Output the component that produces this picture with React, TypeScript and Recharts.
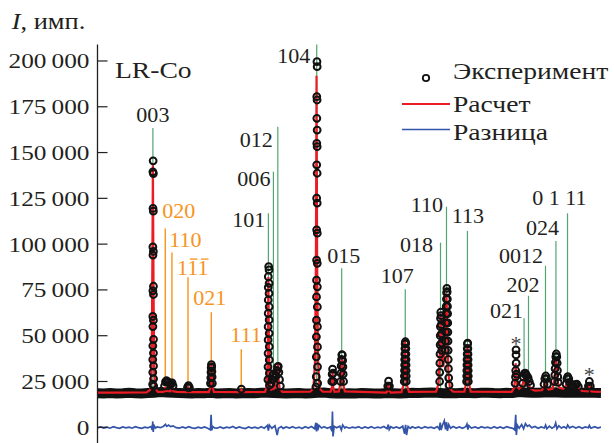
import React from 'react';
import { ComposedChart, Line, Scatter, XAxis, YAxis, ReferenceLine, ReferenceDot, Legend } from 'recharts';

const W = 614;
const H = 450;
const FONT = '"Liberation Serif","Times New Roman",serif';
const INK = '#231f20';
const RED = '#ec1c24';
const BLUE = '#3354a8';
const GREEN = '#52a571';
const ORANGE = '#f7941d';

// ---- data (2θ in degrees, intensity in thousands of counts) ----
const yTicks = [0, 25000, 50000, 75000, 100000, 125000, 150000, 175000, 200000];
const xTicks = [20, 40, 60, 80];

const baseAngles = [10, 11, 12, 13, 14, 15, 16, 17, 18, 19, 20, 21, 22, 23, 24, 25, 26, 27, 28, 29, 30, 31, 32, 33, 34, 35, 36, 37, 38, 39, 40, 41, 42, 43, 44, 45, 46, 47, 48, 49, 50, 51, 52, 53, 54, 55, 56, 57, 58, 59, 60, 61, 62, 63, 64, 65, 66, 67, 68, 69, 70, 71, 72, 73, 74, 75, 76, 77, 78, 79, 80, 81, 82, 83, 84, 85, 86, 87, 88, 89, 90];
const baseValues = [18.6, 18.5, 18.7, 18.5, 18.6, 18.8, 18.6, 18.5, 18.7, 18.9, 19.2, 19.0, 18.8, 18.7, 18.6, 18.5, 18.7, 18.6, 18.8, 18.5, 18.6, 18.7, 18.5, 18.6, 18.7, 18.6, 18.8, 18.9, 18.7, 18.6, 18.5, 18.6, 18.7, 18.5, 18.6, 18.8, 19.0, 18.6, 18.5, 18.4, 18.6, 18.5, 18.7, 18.6, 18.4, 18.5, 18.7, 18.6, 18.5, 18.6, 18.8, 18.7, 18.9, 19.0, 18.8, 18.6, 18.7, 18.6, 18.8, 18.7, 18.6, 18.8, 18.9, 18.7, 18.6, 18.8, 18.7, 19.2, 19.0, 18.9, 18.8, 19.0, 19.1, 19.0, 18.9, 19.0, 18.8, 18.9, 19.0, 18.8, 18.7];

const expPeaks = [
  [20.65, 22.5], [20.8, 24.8], [20.95, 25.4], [21.1, 25], [21.25, 24.6], [21.45, 24], [21.65, 23.5], [21.85, 24.2], [22.0, 22.6],
  [24.3, 21.8], [24.45, 22.8], [24.6, 21.6],
  [27.95, 24], [28.0, 27], [28.03, 30], [28.06, 32.5], [28.1, 34.2], [28.15, 33], [28.18, 30.5], [28.21, 27.5], [28.25, 24],
  [32.86, 20.8],
  [18.84, 145.5], [18.8, 139.5], [18.88, 138.5], [18.82, 119.5], [18.87, 118], [18.8, 98.5], [18.88, 96], [18.81, 94], [18.89, 77], [18.8, 74.5], [18.89, 72.5], [18.79, 60.5], [18.88, 58.5], [18.8, 55], [18.9, 48], [18.79, 44.5], [18.89, 40.5], [18.78, 37], [18.9, 33.5], [18.78, 30], [18.91, 26.5], [18.76, 23.5], [18.93, 22.5],
  [37.2, 87.7], [37.26, 85.9], [37.14, 82.2], [37.27, 78.6], [37.13, 76.4], [37.26, 73.1], [37.13, 69.5], [37.28, 65.8], [37.12, 62.2], [37.27, 58.6], [37.11, 54.9], [37.28, 51.3], [37.11, 47.7], [37.29, 44], [37.1, 40.4], [37.29, 36.8], [37.09, 33], [37.3, 29.5], [37.08, 26], [37.32, 23],
  [37.6, 24], [37.75, 26], [37.9, 28.5], [38.0, 29], [38.15, 27], [38.35, 28], [38.5, 31], [38.6, 33], [38.72, 33.2], [38.82, 30], [38.92, 26], [39.05, 22.5],
  [44.87, 199.6], [44.9, 196.9], [44.84, 180.5], [44.89, 178.7], [44.85, 168.7], [44.9, 162.3], [44.84, 155], [44.9, 153.2], [44.83, 143.3], [44.9, 138.7], [44.82, 125.1], [44.91, 122.4], [44.82, 107.8], [44.92, 106], [44.81, 91.3], [44.92, 89.5], [44.8, 80.3], [44.93, 76.7], [44.8, 71.2], [44.93, 65.7], [44.79, 58.5], [44.94, 54.9], [44.78, 49.4], [44.95, 43.9], [44.77, 38.5], [44.96, 33], [44.76, 27.6], [44.98, 24], [44.7, 22],
  [47.22, 25], [47.28, 29], [47.35, 31.8], [47.42, 29.5], [47.48, 25],
  [48.62, 25], [48.68, 29.5], [48.72, 33.5], [48.76, 37], [48.82, 39.6], [48.9, 39.4], [48.95, 36.5], [48.99, 33], [49.03, 29], [49.1, 25],
  [56.12, 22.5], [56.25, 25.2], [56.38, 22.5],
  [58.74, 25], [59.06, 25], [58.76, 28], [59.05, 28], [58.78, 31], [59.04, 31], [58.8, 34], [59.03, 34], [58.81, 37], [59.02, 37], [58.83, 40], [59.0, 40], [58.85, 43], [58.99, 43], [58.88, 45.5], [58.96, 45.8], [58.92, 46.7],
  [64.36, 25], [64.38, 30], [64.4, 35], [64.42, 40], [64.44, 45], [64.46, 50], [64.48, 55], [64.5, 59.5], [64.54, 62.8], [64.6, 61], [64.63, 56], [64.65, 51], [64.67, 46], [64.7, 42],
  [65.3, 42], [65.32, 47], [65.34, 52], [65.36, 57], [65.38, 62], [65.41, 66], [65.44, 70], [65.47, 73.5], [65.51, 75.8], [65.56, 74], [65.59, 70], [65.61, 66], [65.63, 62], [65.65, 57], [65.67, 52], [65.69, 47], [65.71, 42], [65.73, 37], [65.76, 32], [65.8, 27], [65.85, 23],
  [68.64, 25], [68.92, 25], [68.66, 28], [68.91, 28], [68.68, 31], [68.9, 31], [68.7, 34], [68.89, 34], [68.71, 37], [68.88, 37], [68.73, 40], [68.87, 40], [68.75, 43], [68.85, 43], [68.78, 45.5], [68.82, 46],
  [76.35, 24], [76.42, 27.5], [76.45, 31], [76.52, 35], [76.5, 39.5], [76.5, 42.3], [76.58, 29],
  [77.55, 24], [77.68, 27.5], [77.82, 29.3], [77.97, 29.6], [78.1, 28.6], [78.25, 28], [78.42, 27], [78.6, 25], [78.8, 23],
  [80.95, 23.5], [81.08, 26.5], [81.22, 28], [81.36, 26.5], [81.5, 23.5],
  [82.6, 25], [82.66, 28.5], [82.71, 32], [82.76, 35.5], [82.82, 38.5], [82.9, 40], [82.98, 38.5], [83.03, 35], [83.08, 31], [83.13, 27.5], [83.2, 24.5],
  [84.45, 23.5], [84.58, 26.5], [84.72, 27.6], [84.88, 26.5], [85.02, 24.5], [85.3, 23], [85.6, 22.8], [85.9, 23.3], [86.15, 23.6], [86.4, 22.2],
  [88.0, 22.5], [88.15, 25], [88.3, 22.5],
];

const calcPts = [
  [10, 18.9], [12, 18.9], [14, 18.9], [16, 19.0], [17.8, 19.1], [18.4, 20.5], [18.6, 32], [18.7, 80], [18.8, 143], [18.9, 80], [19.0, 32], [19.2, 21], [19.6, 19.3],
  [20.4, 19.3], [20.65, 19.6], [20.79, 22], [20.95, 19.8], [21.6, 19.6], [21.85, 23], [22.05, 19.6], [22.6, 19.3], [24.2, 19.2], [24.4, 21.5], [24.6, 19.2],
  [27.7, 19.2], [27.95, 22], [28.05, 30], [28.1, 34], [28.15, 30], [28.25, 22], [28.5, 19.3], [32.6, 19.2], [32.86, 20.5], [33.1, 19.2],
  [36.6, 19.3], [36.9, 22], [37.05, 40], [37.15, 82], [37.25, 40], [37.4, 22], [37.6, 20.5], [37.85, 21], [37.98, 25.5], [38.12, 21.5], [38.45, 23], [38.6, 32], [38.68, 35], [38.78, 26], [38.95, 21], [39.4, 19.3],
  [43.8, 19.4], [44.3, 21], [44.55, 35], [44.7, 90], [44.8, 192], [44.9, 90], [45.05, 35], [45.3, 21], [45.8, 19.5],
  [47.05, 19.4], [47.25, 22], [47.35, 30], [47.45, 22], [47.65, 19.4], [48.35, 19.6], [48.6, 24], [48.72, 33], [48.8, 38], [48.9, 33], [49.0, 24], [49.3, 19.6],
  [55.9, 18.9], [56.1, 20], [56.22, 24.5], [56.35, 20], [56.6, 18.9], [58.3, 19.2], [58.6, 23], [58.78, 34], [58.88, 47.5], [58.98, 34], [59.15, 23], [59.5, 19.3],
  [63.8, 19.5], [64.2, 24], [64.38, 40], [64.52, 62], [64.68, 40], [64.82, 34], [64.95, 33], [65.2, 45], [65.3, 58], [65.45, 73], [65.6, 50], [65.75, 30], [66.0, 21], [66.5, 19.5],
  [68.3, 19.4], [68.55, 24], [68.7, 38], [68.78, 45], [68.88, 38], [69.02, 24], [69.3, 19.5],
  [75.8, 19.3], [76.2, 21.5], [76.35, 27], [76.45, 35], [76.55, 27], [76.7, 22], [77.0, 21], [77.3, 22], [77.6, 24], [77.8, 27.5], [78.0, 23], [78.2, 23.5], [78.4, 25.5], [78.6, 22.5], [78.9, 20.8], [79.5, 20],
  [80.6, 20.2], [80.95, 22], [81.15, 25], [81.35, 22], [81.7, 20.6], [82.3, 21], [82.6, 26], [82.75, 33], [82.85, 36.5], [82.95, 33], [83.1, 25], [83.4, 21.5],
  [84.0, 21], [84.4, 22.5], [84.62, 25.8], [84.8, 23], [85.2, 21.8], [85.6, 21.5], [86.0, 22.2], [86.2, 22.8], [86.5, 21], [87.0, 19.8], [87.9, 19.6], [88.05, 21], [88.15, 24], [88.27, 21], [88.5, 19.6], [89, 19.4], [90, 19.3],
];

const diffPts = [
  [10, -0.3], [10.5, 0.2], [11, -0.4], [11.5, 0.1], [12, -0.5], [12.5, 0.3], [13, -0.2], [13.5, -0.6], [14, 0.2], [14.5, -0.3], [15, 0.1], [15.5, -0.5], [16, 0.3], [16.5, -0.2], [17, -0.6], [17.5, 0.1], [18, -0.3], [18.5, 0.4],
  [18.7, -1.5], [18.78, 3.2], [18.86, -2.6], [18.95, 1.2], [19.2, -0.4], [19.5, 0.2], [20, -0.2], [20.5, 0.6], [20.8, 1.6], [21, 0.5], [21.3, 1.2], [21.6, 0.4], [22, 0.8], [22.5, -0.2], [23, -0.5], [23.5, 0.2], [24, -0.4], [24.5, 0.3],
  [25, -0.3], [25.5, -0.6], [26, 0.1], [26.5, -0.4], [27, 0.2], [27.5, -0.5], [27.95, -1.4], [28.05, 6.8], [28.15, -1.6], [28.3, 0.5], [28.6, -0.3], [29, -0.5], [29.5, 0.2], [30, -0.6], [30.5, 0.1], [31, -0.3], [31.5, 0.4],
  [32, -0.5], [32.5, 0.2], [33, -0.3], [33.5, -0.7], [34, 0.2], [34.5, -0.4], [35, 0.1], [35.5, -0.6], [36, 0.3], [36.5, -0.5], [37, 1.0], [37.15, -1.8], [37.3, 1.2], [37.7, -0.5], [38.2, 0.8], [38.55, -4.2], [38.75, -0.5],
  [39.2, 0.4], [39.5, -0.6], [40, 0.2], [40.5, -0.4], [41, 0.3], [41.5, -0.5], [42, 0.1], [42.5, -0.7], [43, 0.3], [43.5, -0.4], [44, 0.4], [44.5, -0.8], [44.7, 2.5], [44.8, -2.2], [44.9, 2.2], [45.0, -1.6], [45.2, 1.0], [45.6, -0.4],
  [46, 0.3], [46.5, -0.5], [47, 0.2], [47.25, -2.2], [47.33, 8.6], [47.42, -5.0], [47.6, 0.5], [48, -0.3], [48.5, 0.6], [48.75, -1.5], [48.95, 1.3], [49.3, -0.4], [49.5, 0.2], [50, -0.5], [50.5, 0.1], [51, -0.3], [51.5, 0.3],
  [52, -0.6], [52.5, 0.2], [53, -0.4], [53.5, 0.3], [54, -0.5], [54.5, 0.1], [55, -0.3], [55.5, 0.4], [56, -0.8], [56.2, 1.5], [56.35, -1.2], [56.6, 0.3], [57, -0.4], [57.5, 0.2], [58, -0.5], [58.5, 0.6], [58.8, -3.5], [58.95, 1.4],
  [59.1, -4.2], [59.35, 0.5], [59.7, -0.6], [60, 0.3], [60.5, -0.4], [61, 0.2], [61.5, -0.6], [62, 0.3], [62.5, -0.3], [63, 0.1], [63.5, -0.5], [64, 0.4], [64.3, -1.0], [64.45, 2.5], [64.6, -1.5], [64.8, 1.0], [65.1, 3.6],
  [65.3, -1.2], [65.45, 2.8], [65.6, -2.0], [65.8, 1.5], [66.1, -0.5], [66.5, 0.4], [67, -0.4], [67.5, 0.2], [68, -0.5], [68.5, 0.3], [68.7, 1.8], [68.85, -1.2], [69.0, 0.9], [69.4, -0.4], [70, 0.2], [70.5, -0.5], [71, 0.3],
  [71.5, -0.3], [72, 0.1], [72.5, -0.6], [73, 0.3], [73.5, -0.4], [74, 0.2], [74.5, -0.5], [75, 0.3], [75.5, -0.2], [76, -0.6], [76.3, -1.5], [76.45, 6.8], [76.55, -4.2], [76.7, 1.2], [77, -0.5], [77.4, 1.5], [77.7, -0.8],
  [78.0, 2.0], [78.3, 0.5], [78.6, 1.2], [79, -0.3], [79.5, 0.4], [80, -0.5], [80.5, 0.2], [81, -0.4], [81.2, 1.2], [81.4, -0.8], [81.8, 0.6], [82.2, -0.5], [82.6, 0.3], [82.8, 2.4], [83.0, -0.8], [83.3, 0.8], [83.7, -0.4],
  [84.1, 0.3], [84.5, -0.5], [84.7, 1.2], [85, -0.3], [85.5, 0.5], [86, -0.4], [86.5, 0.3], [87, -0.5], [87.5, 0.2], [88, -0.3], [88.15, 1.0], [88.4, -0.5], [89, 0.3], [89.5, -0.4], [90, 0.1],
];

// LiMO2 (R-3m) reflections
const rhomboHkl = ['003', '101', '006', '012', '104', '015', '107', '018', '110', '113', '021', '202', '0012', '024', '0 1 11'];
const rhomboAngle = [18.8, 37.15, 37.95, 38.65, 44.83, 48.8, 58.9, 64.5, 65.45, 68.78, 77.78, 78.48, 81.18, 82.84, 84.68];
const rhomboTop = [163.4, 116.8, 139.6, 164.1, 209, 86.8, 75.3, 100.8, 120.4, 107.2, 59.5, 71.8, 88.2, 101.7, 116.8];

// Li2MnO3 (C2/m) reflections; '-' marks a negative index
const monoHkl = ['020', '110', '1-1-1', '021', '111'];
const monoAngle = [20.77, 21.83, 24.38, 28.08, 32.84];
const monoTop = [108.6, 95.5, 81.9, 62.8, 42.6];

// impurity peaks marked with *
const starAngle = [76.5, 88.15];
const starTop = [42.3, 25];

const legendNames = ['Эксперимент', 'Расчет', 'Разница'];
const axisTitle = 'I';
const axisUnit = ', имп.';
const sampleName = 'LR-Co';

// ---- label placement (pixels, relative to line top) ----
const rhomboLabelPos: Record<string, [number, number, string]> = {
  '003': [0, -6, 'middle'],
  '101': [-3, 14, 'end'],
  '006': [-3, 14.5, 'end'],
  '012': [-5, 20, 'end'],
  '104': [-6.5, 18, 'end'],
  '015': [2, -5, 'middle'],
  '107': [-8, -6.5, 'middle'],
  '018': [-7.5, 9, 'end'],
  '110': [-3.5, 5, 'end'],
  '113': [0.5, -8, 'middle'],
  '021': [-1, 0, 'end'],
  '202': [11, -4, 'end'],
  '0012': [-2.5, -3, 'end'],
  '024': [3, -6, 'end'],
  '0 1 11': [19, -8, 'end'],
};
const monoLabelPos: Record<string, [number, number]> = {
  '020': [-3, -10],
  '110': [-2.7, -5.6],
  '1-1-1': [-11, -2],
  '021': [-18, -7],
  '111': [-11, -7.6],
};

const toRows = (pts: number[][]) => pts.map(([x, k]) => ({ x, y: k * 1000 }));
const bandRows = baseAngles.map((a, i) => ({ x: a, y: baseValues[i] * 1000 }));
const expRows = toRows(expPeaks);
const calcRows = toRows(calcPts);
const diffRows = toRows(diffPts);

function SText({ x, y, anchor = 'start', fill = INK, size = 22, sx = 1.1, children }: any) {
  return (
    <text transform={`translate(${x},${y}) scale(${sx},1)`} textAnchor={anchor} fill={fill} fontSize={size} fontFamily={FONT}>
      {children}
    </text>
  );
}

const fmtY = (v: number) => (v === 0 ? '0' : `${Math.floor(v / 1000)}\u2009${String(v % 1000).padStart(3, '0')}`);

const YTick = (p: any) => {
  const { x, y, payload } = p;
  return (
    <g>
      <line x1={x + 8} x2={x + 18} y1={y} y2={y} stroke={INK} strokeWidth={1.2} />
      <SText x={x} y={y + 7.5} anchor="end" size={22} sx={1.15}>{fmtY(payload.value)}</SText>
    </g>
  );
};

// Miller-index label with bars over negative indices
const MonoLabel = ({ x, y, label }: any) => {
  const toks = label.match(/-?\d/g) || [];
  const size = 21;
  const adv = size * 0.5;
  return (
    <g transform={`translate(${x},${y}) scale(1.05,1)`}>
      <text fill={ORANGE} fontSize={size} fontFamily={FONT}>
        {toks.map((t: string) => t.replace('-', '')).join('')}
      </text>
      {toks.map((t: string, i: number) =>
        t.startsWith('-') ? (
          <line key={i} x1={i * adv + 1.8} x2={i * adv + 9} y1={-16.2} y2={-16.2} stroke={ORANGE} strokeWidth={1.3} />
        ) : null
      )}
    </g>
  );
};

const ExpDot = (p: any) => <circle cx={p.cx} cy={p.cy} r={3.4} fill="none" stroke="#111" strokeWidth={2} />;

const Overlay = () => (
  <svg width={W} height={H} style={{ position: 'absolute', left: 0, top: 0, overflow: 'visible' }}>
    <text transform="translate(11.7,29.3) scale(1.15,1)" fontFamily={FONT} fontSize={23} fill={INK}>
      <tspan fontStyle="italic">{axisTitle}</tspan>
      <tspan>{axisUnit}</tspan>
    </text>
    <SText x={115} y={77.7} size={23} sx={1.2}>{sampleName}</SText>
    <circle cx={426} cy={78} r={3.2} fill="none" stroke="#111" strokeWidth={1.8} />
    <SText x={453} y={79} size={23} sx={1.2}>{legendNames[0]}</SText>
    <line x1={402} x2={450} y1={104} y2={104} stroke={RED} strokeWidth={2} />
    <SText x={453} y={111.5} size={23} sx={1.2}>{legendNames[1]}</SText>
    <line x1={402} x2={450} y1={129.5} y2={129.5} stroke={BLUE} strokeWidth={1.6} />
    <SText x={453} y={140} size={23} sx={1.2}>{legendNames[2]}</SText>
  </svg>
);

export default function App() {
  return (
    <div style={{ position: 'absolute', left: 0, top: 0, width: W, height: H }}>
      <ComposedChart width={W} height={H} margin={{ top: 44.5, right: 13, bottom: 4.4, left: 0 }}>
        <XAxis
          type="number"
          dataKey="x"
          domain={[10, 90]}
          ticks={xTicks}
          tick={false}
          mirror
          tickSize={7}
          height={0}
          allowDataOverflow
          axisLine={{ stroke: INK, strokeWidth: 1.2 }}
          tickLine={{ stroke: INK, strokeWidth: 1.2 }}
        />
        <YAxis
          type="number"
          domain={[-10000, 209000]}
          ticks={yTicks}
          interval={0}
          width={97.5}
          tickSize={0}
          tickMargin={8}
          tickLine={false}
          tick={(p: any) => <YTick {...p} />}
          allowDataOverflow
          axisLine={{ stroke: INK, strokeWidth: 1.3 }}
        />
        {rhomboHkl.map((h, i) => {
          const [dx, dy, anchor] = rhomboLabelPos[h];
          return (
            <ReferenceLine
              key={'r' + h}
              segment={[{ x: rhomboAngle[i], y: 19000 }, { x: rhomboAngle[i], y: rhomboTop[i] * 1000 }]}
              stroke={GREEN}
              strokeWidth={1.2}
              ifOverflow="visible"
              label={(lp: any) => (
                <SText x={lp.viewBox.x + dx} y={lp.viewBox.y + dy} anchor={anchor} size={21} sx={1.05}>{h}</SText>
              )}
            />
          );
        })}
        {monoHkl.map((h, i) => {
          const [dx, dy] = monoLabelPos[h];
          return (
            <ReferenceLine
              key={'m' + h}
              segment={[{ x: monoAngle[i], y: 19000 }, { x: monoAngle[i], y: monoTop[i] * 1000 }]}
              stroke={ORANGE}
              strokeWidth={1.4}
              ifOverflow="visible"
              label={(lp: any) => <MonoLabel x={lp.viewBox.x + dx} y={lp.viewBox.y + dy} label={h} />}
            />
          );
        })}
        <Line data={bandRows} dataKey="y" stroke="#111" strokeWidth={10} dot={false} isAnimationActive={false} legendType="none" />
        <Scatter data={expRows} dataKey="y" shape={ExpDot} isAnimationActive={false} />
        <Line data={calcRows} dataKey="y" stroke={RED} strokeWidth={2.2} dot={false} isAnimationActive={false} />
        <Line data={diffRows} dataKey="y" stroke={BLUE} strokeWidth={1.7} dot={false} isAnimationActive={false} />
        {starAngle.map((a, i) => (
          <ReferenceDot
            key={'s' + i}
            x={a}
            y={starTop[i] * 1000}
            r={0}
            fill="none"
            stroke="none"
            ifOverflow="visible"
            label={(lp: any) => (
              <SText x={lp.viewBox.x} y={lp.viewBox.y + 1} anchor="middle" size={22} sx={1.0} fill="#444">*</SText>
            )}
          />
        ))}
        <Legend
          content={() => <Overlay />}
          layout="horizontal"
          verticalAlign="middle"
          align="center"
          wrapperStyle={{ position: 'absolute', left: 0, top: 0, width: 1, height: 1, overflow: 'visible', pointerEvents: 'none' }}
        />
      </ComposedChart>
    </div>
  );
}
